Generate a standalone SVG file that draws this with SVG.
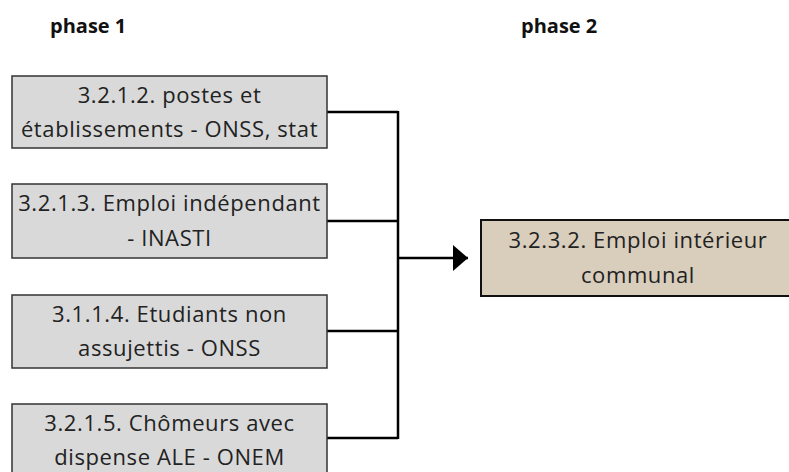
<svg xmlns="http://www.w3.org/2000/svg" width="789" height="472" viewBox="0 0 789 472">
<style>
.hdr{font-family:"Open Sans","Liberation Sans",sans-serif;font-weight:bold;font-size:20px;fill:#111}
.lbl{font-family:"Open Sans","Liberation Sans",sans-serif;font-size:22px;letter-spacing:0.6px;fill:#222;text-anchor:middle}
.src{fill:#d9d9d9;stroke:#333;stroke-width:1.5}
.dst{fill:#d9cdbc;stroke:#111;stroke-width:2}
.con{fill:none;stroke:#000;stroke-width:2.5}
</style>
<defs>
<marker id="ah" markerUnits="userSpaceOnUse" markerWidth="16" markerHeight="26" refX="15" refY="13" orient="auto">
<path d="M0,0 L15,13 L0,26 Z" fill="#000"/>
</marker>
</defs>
<text class="hdr" x="50" y="33">phase 1</text>
<text class="hdr" x="521" y="33">phase 2</text>
<g id="connectors">
<path class="con" d="M327,112 H398 M327,221 H398 M327,331 H398 M327,438 H398 M398,111 V439"/>
<path class="con" d="M398,258 H468" marker-end="url(#ah)"/>
</g>
<g id="n1">
<rect class="src" x="12" y="76" width="315" height="72"/>
<text class="lbl" x="169.5" y="103">3.2.1.2. postes et</text>
<text class="lbl" x="169.5" y="137">établissements - ONSS, stat</text>
</g>
<g id="n2">
<rect class="src" x="12" y="184" width="315" height="74"/>
<text class="lbl" x="169.5" y="211">3.2.1.3. Emploi indépendant</text>
<text class="lbl" x="169.5" y="246">- INASTI</text>
</g>
<g id="n3">
<rect class="src" x="12" y="295" width="315" height="73"/>
<text class="lbl" x="169.5" y="322">3.1.1.4. Etudiants non</text>
<text class="lbl" x="169.5" y="356">assujettis - ONSS</text>
</g>
<g id="n4">
<rect class="src" x="12" y="404" width="315" height="74"/>
<text class="lbl" x="169.5" y="431">3.2.1.5. Chômeurs avec</text>
<text class="lbl" x="169.5" y="465">dispense ALE - ONEM</text>
</g>
<g id="n5">
<rect class="dst" x="481" y="220" width="320" height="76"/>
<text class="lbl" x="638" y="248">3.2.3.2. Emploi intérieur</text>
<text class="lbl" x="638" y="283">communal</text>
</g>
</svg>
